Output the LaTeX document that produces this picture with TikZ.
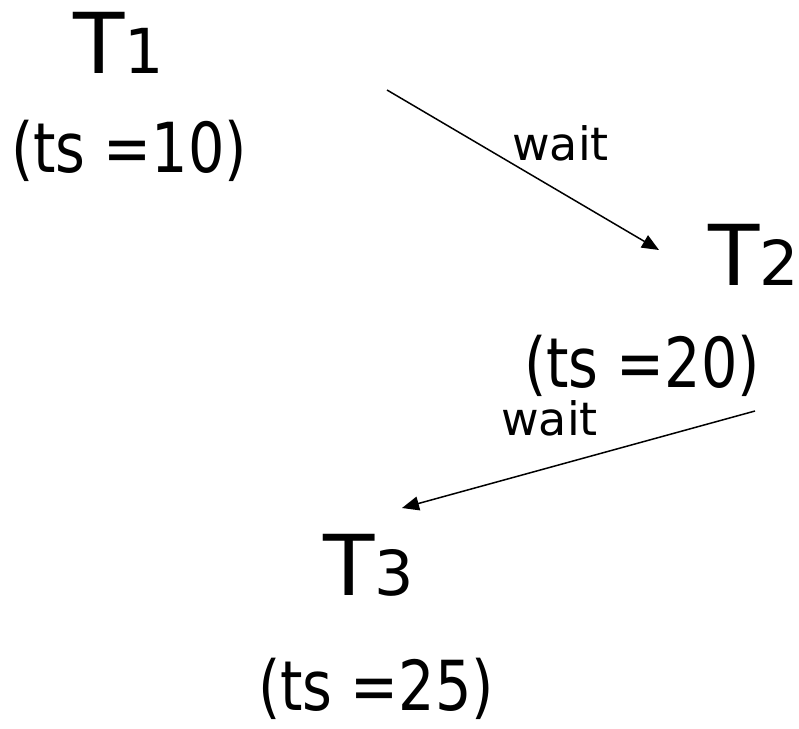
\documentclass[tikz,border=0pt]{standalone}
\usepackage{fontspec}
\setmainfont{DejaVu Sans}
\newfontfamily\tsfont[FakeStretch=0.83]{DejaVu Sans}
\usetikzlibrary{arrows.meta}
\tikzset{
  tlabel/.style={inner sep=0pt, anchor=base west, font=\fontsize{84}{84}\selectfont},
  tslabel/.style={inner sep=0pt, anchor=base west, font=\tsfont\fontsize{69}{69}\selectfont},
  waitlabel/.style={inner sep=0pt, anchor=base west, font=\fontsize{46}{46}\selectfont},
  waitarrow/.style={line width=1.5pt, -{Triangle[length=17pt,width=14pt]}}
}
\newcommand{\sub}[1]{{\fontsize{62}{62}\selectfont #1}}
\begin{document}
\begin{tikzpicture}[x=1pt,y=-1pt]
\useasboundingbox (0,0) rectangle (799,728);
\node[tlabel] (t1) at (73,73) {T\sub{1}};
\node[tslabel] (ts1) at (11,172) {(ts =10)};
\node[tlabel] (t2) at (708,285) {T\sub{2}};
\node[tslabel] (ts2) at (524,387) {(ts =20)};
\node[tlabel] (t3) at (323,595) {T\sub{3}};
\node[tslabel] (ts3) at (258,710) {(ts =25)};
\node[waitlabel] (w1) at (512,160) {wait};
\node[waitlabel] (w2) at (501,435) {wait};
\coordinate (a1s) at (387,90);
\coordinate (a1e) at (659,250);
\coordinate (a2s) at (755,411);
\coordinate (a2e) at (402,508);
\draw[waitarrow] (a1s) -- (a1e);
\draw[waitarrow] (a2s) -- (a2e);
\end{tikzpicture}
\end{document}
